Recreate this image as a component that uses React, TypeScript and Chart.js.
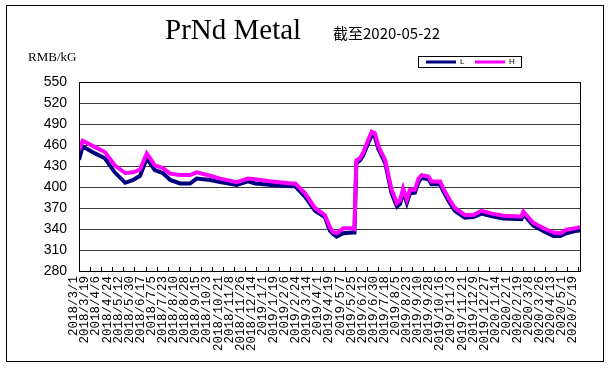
import React, { useEffect, useRef } from "react";
import { Chart, registerables } from "chart.js";

Chart.register(...registerables);

// ---- text ----
const titleText = "PrNd Metal";
const subtitleText = "截至2020-05-22";
const unitText = "RMB/kG";
const seriesNames = ["L", "H"];
const seriesColors = ["#000080", "#FF00FF"];

// ---- axes ----
const startDate = "2018/3/1";
const endDate = "2020/5/22";
const yMin = 280;
const yMax = 550;
const yStep = 30;
const xTickLabels = [
  "2018/3/1", "2018/3/19", "2018/4/6", "2018/4/24", "2018/5/12", "2018/5/30",
  "2018/6/17", "2018/7/5", "2018/7/23", "2018/8/10", "2018/8/28", "2018/9/15",
  "2018/10/3", "2018/10/21", "2018/11/8", "2018/11/26", "2018/12/14", "2019/1/1",
  "2019/1/19", "2019/2/6", "2019/2/24", "2019/3/14", "2019/4/1", "2019/4/19",
  "2019/5/7", "2019/5/25", "2019/6/12", "2019/6/30", "2019/7/18", "2019/8/5",
  "2019/8/23", "2019/9/10", "2019/9/28", "2019/10/16", "2019/11/3", "2019/11/21",
  "2019/12/9", "2019/12/27", "2020/1/14", "2020/2/1", "2020/2/19", "2020/3/8",
  "2020/3/26", "2020/4/13", "2020/5/1", "2020/5/19",
];

// ---- data (days since 2018/3/1) ----
const dayOffsets = [
  0, 6, 26, 42, 58, 75, 88, 99, 110, 123, 136, 148, 164, 180, 191, 213, 229, 256,
  274, 286, 313, 345, 351, 367, 383, 399, 407, 412, 418, 429, 443, 447, 450, 456,
  461, 467, 475, 480, 486, 497, 507, 516, 521, 526, 532, 537, 545, 551, 556, 567,
  572, 586, 591, 602, 610, 626, 640, 653, 670, 689, 718, 721, 737, 754, 770, 781,
  791, 805, 813,
];
const highValues = [
  453, 466, 457, 450, 431, 420, 421, 425, 448, 431, 427, 419, 417, 417, 421, 416, 412, 407,
  412, 411, 408, 405, 405, 391, 370, 360, 343, 336, 334, 341, 341, 340, 438, 441,
  449, 462, 479, 477, 458, 438, 397, 377, 381, 398, 382, 396, 396, 412, 417, 415,
  408, 408, 398, 381, 370, 360, 360, 366, 362, 359, 358, 365, 349, 341, 335, 334,
  339, 341, 343,
];
const lowValues = [
  439, 458, 448, 441, 421, 406, 410, 416, 441, 424, 420, 410, 405, 405, 412, 410, 407, 403,
  408, 405, 403, 401, 401, 386, 366, 357, 338, 333, 329, 334, 335, 335, 434, 438,
  445, 458, 474, 472, 454, 434, 392, 372, 376, 393, 377, 391, 392, 407, 413, 411,
  404, 404, 394, 377, 366, 356, 357, 362, 358, 355, 354, 361, 345, 337, 330, 330,
  334, 337, 338,
];

const dayOf = (s: string) => {
  const [y, m, d] = s.split("/").map(Number);
  const [y0, m0, d0] = startDate.split("/").map(Number);
  return Math.round((Date.UTC(y, m - 1, d) - Date.UTC(y0, m0 - 1, d0)) / 86400000);
};

const decorPlugin = {
  id: "decor",
  afterDraw(chart: any) {
    const { ctx, chartArea } = chart;
    const xs = chart.scales.x;
    ctx.save();
    // plot frame
    ctx.strokeStyle = "#000";
    ctx.lineWidth = 1;
    ctx.strokeRect(chartArea.left + 0.5, chartArea.top + 0.5, chartArea.right - chartArea.left, chartArea.bottom - chartArea.top);
    // inner tick marks
    ctx.beginPath();
    xs.ticks.forEach((t: any) => {
      const px = Math.round(xs.getPixelForValue(t.value)) + 0.5;
      ctx.moveTo(px, chartArea.bottom);
      ctx.lineTo(px, chartArea.bottom - 4);
    });
    ctx.stroke();

    // title
    ctx.fillStyle = "#000";
    ctx.textBaseline = "alphabetic";
    ctx.textAlign = "left";
    ctx.font = "29px 'Liberation Serif'";
    ctx.fillText(titleText, 158, 33);
    ctx.font = "15px 'Noto Sans CJK SC'";
    ctx.fillText(subtitleText, 326, 33);
    // unit
    ctx.font = "13px 'Liberation Serif'";
    ctx.textBaseline = "middle";
    ctx.fillText(unitText, 21, 52);

    // legend
    const bx = 411, by = 50, bw = 103, bh = 11;
    ctx.fillStyle = "#fff";
    ctx.fillRect(bx, by, bw, bh);
    ctx.strokeStyle = "#000";
    ctx.strokeRect(bx + 0.5, by + 0.5, bw, bh);
    ctx.font = "8px 'Liberation Sans'";
    chart.data.datasets.forEach((ds: any, i: number) => {
      const lx = bx + 8 + i * 49;
      ctx.strokeStyle = ds.borderColor;
      ctx.lineWidth = 3;
      ctx.beginPath();
      ctx.moveTo(lx, by + 6);
      ctx.lineTo(lx + 30, by + 6);
      ctx.stroke();
      ctx.fillStyle = "#000";
      ctx.fillText(ds.label, lx + 34, by + 6);
    });
    ctx.restore();
  },
};

export default function App() {
  const ref = useRef<HTMLCanvasElement | null>(null);
  useEffect(() => {
    if (!ref.current) return;
    const tickDays = xTickLabels.map(dayOf);
    const xMax = dayOf(endDate);
    const chart = new Chart(ref.current, {
      type: "line",
      data: {
        datasets: [
          {
            label: seriesNames[0],
            data: dayOffsets.map((d, i) => ({ x: d, y: lowValues[i] })),
            borderColor: seriesColors[0],
            backgroundColor: seriesColors[0],
            borderWidth: 4,
            pointRadius: 0,
            tension: 0,
            order: 1,
          },
          {
            label: seriesNames[1],
            data: dayOffsets.map((d, i) => ({ x: d, y: highValues[i] })),
            borderColor: seriesColors[1],
            backgroundColor: seriesColors[1],
            borderWidth: 4,
            pointRadius: 0,
            tension: 0,
            order: 0,
          },
        ],
      },
      options: {
        responsive: false,
        animation: false,
        layout: { padding: { top: 76, right: 23, left: 0, bottom: 0 } },
        plugins: { legend: { display: false }, title: { display: false }, tooltip: { enabled: false } },
        scales: {
          x: {
            type: "linear",
            min: 0,
            max: xMax,
            bounds: "data",
            afterFit: (s: any) => { s.height = 90; },
            afterBuildTicks: (s: any) => { s.ticks = tickDays.map((v) => ({ value: v })); },
            grid: { display: false, drawTicks: false },
            border: { display: true, color: "#000" },
            ticks: {
              autoSkip: false,
              maxRotation: 90,
              minRotation: 90,
              padding: 5,
              labelOffset: -5,
              color: "#000",
              font: { family: "'Liberation Mono'", size: 12.5 },
              callback: (_v: any, i: number) => xTickLabels[i],
            },
          },
          y: {
            min: yMin,
            max: yMax,
            afterFit: (s: any) => { s.width = 72; },
            grid: { color: "#3a3a3a", lineWidth: 1, drawTicks: false },
            border: { display: true, color: "#000" },
            ticks: {
              stepSize: yStep,
              padding: 12,
              color: "#000",
              font: { family: "'Liberation Sans'", size: 14 },
            },
          },
        },
      },
      plugins: [decorPlugin],
    });
    return () => chart.destroy();
  }, []);
  return (
    <div
      style={{
        position: "absolute",
        left: 6,
        top: 5,
        width: 596,
        height: 355,
        border: "1px solid #000",
        background: "#fff",
      }}
    >
      <canvas ref={ref} width={596} height={355} style={{ display: "block" }} />
    </div>
  );
}
